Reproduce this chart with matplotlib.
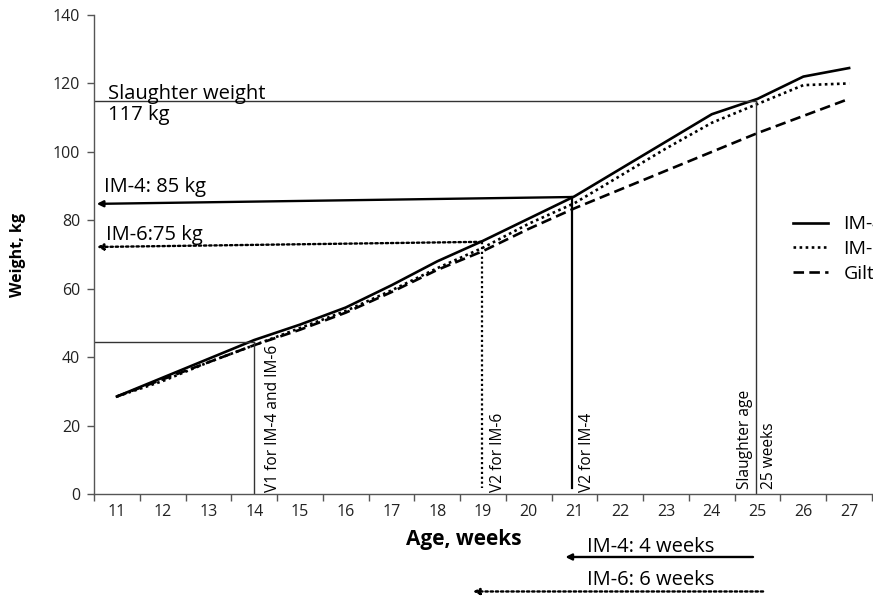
import matplotlib
matplotlib.use("Agg")
import matplotlib.pyplot as plt

plt.rcParams['font.family'] = ['Open Sans', 'DejaVu Sans']

# growth curves, weight (kg) by age (weeks)
weeks = list(range(11, 28))
im4 = [28.5, 34, 39.5, 45, 49.5, 54.5, 61, 68, 74, 80.5, 87, 95, 103, 111, 115.5, 122, 124.5]
im6 = [28.5, 33, 38.5, 43.5, 48.5, 53.5, 59.5, 66, 72, 79, 85, 93, 101, 108.5, 114, 119.5, 120]
gilts = [28.5, 33.5, 38.5, 43.5, 48, 53, 59, 65.5, 71, 77.5, 83.5, 89, 94.5, 100, 105.5, 110.5, 115.5]
series_labels = ["IM-4", "IM-6", "Gilts"]

# reference markers
v1_week, v1_weight = 14.0, 44.3
v2_im6_week, v2_im6_weight = 18.97, 73.7
v2_im4_week, v2_im4_weight = 20.95, 86.8
slaughter_week, slaughter_weight = 24.97, 115.0
im4_arrow_end, im6_arrow_end = 84.8, 72.2

fig = plt.figure(figsize=(8.73, 5.97), dpi=100)
ax = fig.add_axes([94/873, 103/597, 778/873, 479/597])

lw = 1.9
ax.plot(weeks, im4, color='black', lw=lw, ls='-', label=series_labels[0])
ax.plot(weeks, im6, color='black', lw=lw, ls=(0, (1, 1.3)), label=series_labels[1])
ax.plot(weeks, gilts, color='black', lw=lw, ls=(0, (4, 2)), label=series_labels[2])

xmin = 10.5
thin = dict(color='#333333', lw=1.0)
dotted = (0, (1, 1.2))
big = 14.5

# slaughter weight / age
ax.plot([xmin, slaughter_week], [slaughter_weight, slaughter_weight], **thin)
ax.plot([slaughter_week, slaughter_week], [slaughter_weight, 0], **thin)
ax.text(10.8, 117.0, "Slaughter weight", fontsize=big, va='center', ha='left')
ax.text(10.8, 110.9, "117 kg", fontsize=big, va='center', ha='left')

# V1
ax.plot([xmin, v1_week], [v1_weight, v1_weight], **thin)
ax.plot([v1_week, v1_week], [v1_weight, 0], **thin)

# V2 IM-4
ax.plot([v2_im4_week, v2_im4_week], [v2_im4_weight, 1.7], color='black', lw=1.6)
ax.annotate("", xy=(xmin + 0.06, im4_arrow_end), xytext=(v2_im4_week, v2_im4_weight),
            arrowprops=dict(arrowstyle='-|>', color='black', lw=1.7,
                            mutation_scale=9, shrinkA=0, shrinkB=0))
ax.text(10.72, 89.8, "IM-4: 85 kg", fontsize=big, va='center', ha='left')

# V2 IM-6
ax.plot([v2_im6_week, v2_im6_week], [v2_im6_weight, 1.7], color='black', lw=1.6, ls=dotted)
ax.annotate("", xy=(xmin + 0.06, im6_arrow_end), xytext=(v2_im6_week, v2_im6_weight),
            arrowprops=dict(arrowstyle='-|>', color='black', lw=1.7, ls=dotted,
                            mutation_scale=9, shrinkA=0, shrinkB=0))
ax.text(10.76, 75.6, "IM-6:75 kg", fontsize=big, va='center', ha='left')

# rotated labels
rot = dict(rotation=90, fontsize=11.2, ha='center', va='bottom')
ax.text(14.41, 0.6, "V1 for IM-4 and IM-6", **rot)
ax.text(19.33, 0.6, "V2 for IM-6", **rot)
ax.text(21.28, 0.6, "V2 for IM-4", **rot)
ax.text(24.73, 1.5, "Slaughter age", **rot)
ax.text(25.25, 1.5, "25 weeks", **rot)

# period arrows under the axis
trans = ax.get_xaxis_transform()
ax.annotate("", xy=(20.8, -0.1315), xytext=(24.9, -0.1315), xycoords=trans, textcoords=trans,
            arrowprops=dict(arrowstyle='-|>', color='black', lw=1.7, mutation_scale=9,
                            shrinkA=0, shrinkB=0), annotation_clip=False)
ax.text(22.67, -0.11, "IM-4: 4 weeks", transform=trans, fontsize=big, ha='center', va='center')
ax.annotate("", xy=(18.78, -0.2035), xytext=(25.12, -0.2035), xycoords=trans, textcoords=trans,
            arrowprops=dict(arrowstyle='-|>', color='black', lw=1.7, ls=dotted,
                            mutation_scale=9, shrinkA=0, shrinkB=0), annotation_clip=False)
ax.text(22.67, -0.1795, "IM-6: 6 weeks", transform=trans, fontsize=big, ha='center', va='center')

# axes
ax.set_xlim(xmin, 27.5)
ax.set_ylim(0, 140)
ax.set_yticks(range(0, 141, 20))
ax.set_xticks([w - 0.5 for w in weeks] + [27.5])
ax.set_xticklabels([])
ax.set_xticks(weeks, minor=True)
ax.set_xticklabels([str(w) for w in weeks], minor=True)
ax.tick_params(axis='x', which='major', length=5, color='#555555', width=1)
ax.tick_params(axis='x', which='minor', length=0, pad=7, labelsize=11.5, labelcolor='#222222')
ax.tick_params(axis='y', length=5, color='#555555', width=1, pad=5, labelsize=11.5, labelcolor='#222222')
for s in ['top', 'right']:
    ax.spines[s].set_visible(False)
for s in ['left', 'bottom']:
    ax.spines[s].set_color('#555555')
    ax.spines[s].set_linewidth(1)

ax.set_xlabel("Age, weeks", fontsize=15, fontweight='bold', va='center', ha='center')
ax.xaxis.set_label_coords((464 - 94) / 778, (494 - 539) / 479)
ax.set_ylabel("Weight, kg", fontsize=11.5, fontweight='bold', va='center', ha='center')
ax.yaxis.set_label_coords((18 - 94) / 778, (494 - 255) / 479)

# legend runs off the right edge, as in the source figure
fig.legend(loc='center left', bbox_to_anchor=(793/873, 1 - 249/597), frameon=False,
           fontsize=14, handlelength=1.8, handletextpad=0.8, labelspacing=0.34,
           borderpad=0, borderaxespad=0)

fig.savefig("out.png", dpi=100)
